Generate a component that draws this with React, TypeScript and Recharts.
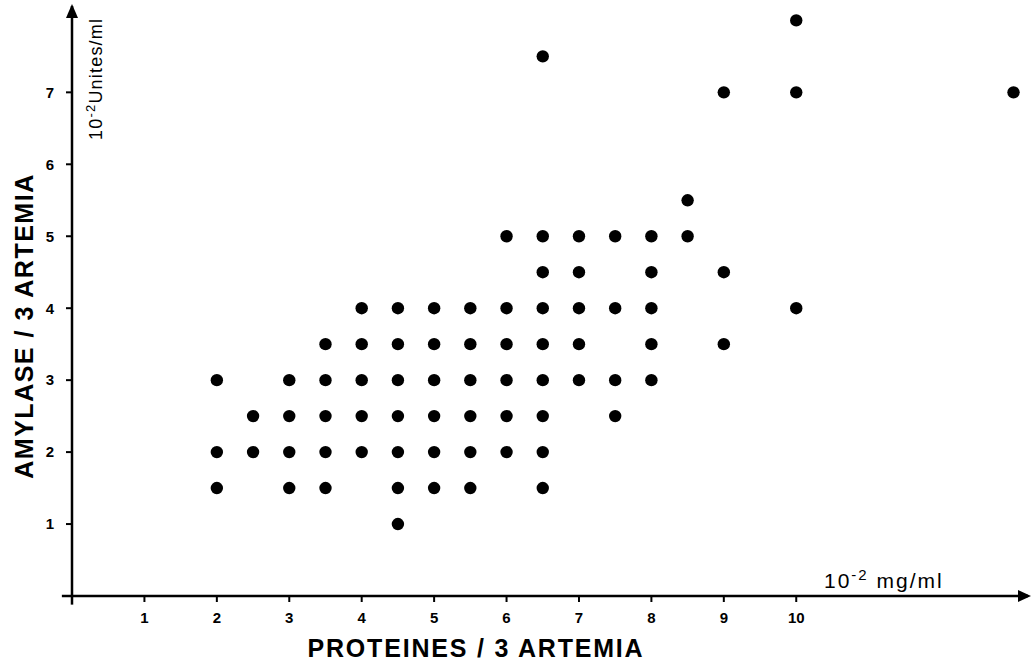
import { ScatterChart, Scatter, XAxis, YAxis, ReferenceDot, ReferenceLine } from 'recharts';

// proteines (10^-2 mg/ml) and amylase (10^-2 unites/ml), paired by index
const proteines = [
  2, 2, 2,
  2.5, 2.5,
  3, 3, 3, 3,
  3.5, 3.5, 3.5, 3.5, 3.5,
  4, 4, 4, 4, 4,
  4.5, 4.5, 4.5, 4.5, 4.5, 4.5, 4.5,
  5, 5, 5, 5, 5, 5,
  5.5, 5.5, 5.5, 5.5, 5.5, 5.5,
  6, 6, 6, 6, 6, 6,
  6.5, 6.5, 6.5, 6.5, 6.5, 6.5, 6.5, 6.5, 6.5,
  7, 7, 7, 7, 7,
  7.5, 7.5, 7.5, 7.5,
  8, 8, 8, 8, 8,
  8.5, 8.5,
  9, 9, 9,
  10, 10, 10,
  13,
];
const amylase = [
  3, 2, 1.5,
  2.5, 2,
  3, 2.5, 2, 1.5,
  3.5, 3, 2.5, 2, 1.5,
  4, 3.5, 3, 2.5, 2,
  4, 3.5, 3, 2.5, 2, 1.5, 1,
  4, 3.5, 3, 2.5, 2, 1.5,
  4, 3.5, 3, 2.5, 2, 1.5,
  5, 4, 3.5, 3, 2.5, 2,
  7.5, 5, 4.5, 4, 3.5, 3, 2.5, 2, 1.5,
  5, 4.5, 4, 3.5, 3,
  5, 4, 3, 2.5,
  5, 4.5, 4, 3.5, 3,
  5.5, 5,
  7, 4.5, 3.5,
  8, 7, 4,
  7,
];
const xTicks = [1, 2, 3, 4, 5, 6, 7, 8, 9, 10];
const yTicks = [1, 2, 3, 4, 5, 6, 7];

const points = proteines.map((p, i) => ({ p, a: amylase[i] }));

const font = '"Liberation Sans", Arial, sans-serif';
const ink = '#000';

const Dot = (props: any) => <circle cx={props.cx} cy={props.cy} r={6.2} fill={ink} />;

const ArrowRight = (props: any) => (
  <path d={`M${props.cx + 3},${props.cy} L${props.cx - 10},${props.cy - 6} L${props.cx - 10},${props.cy + 6} Z`} fill={ink} />
);
const ArrowUp = (props: any) => (
  <path d={`M${props.cx},${props.cy - 2} L${props.cx - 6},${props.cy + 12} L${props.cx + 6},${props.cy + 12} Z`} fill={ink} />
);

const XTitle = (props: any) => {
  const { x, y } = props.viewBox;
  return (
    <g fontFamily={font} fill={ink}>
      <text x={x + 404} y={y + 61} textAnchor="middle" fontSize={25} fontWeight="bold" letterSpacing={1.8}>
        PROTEINES / 3 ARTEMIA
      </text>
      <text x={x + 752} y={y - 8} fontSize={21} letterSpacing={2}>
        10<tspan dy={-8} fontSize={15}>-2</tspan>
        <tspan dy={8}> mg/ml</tspan>
      </text>
    </g>
  );
};

const YTitle = (props: any) => {
  const { x, width } = props.viewBox;
  const cy = 326;
  const ux = x + width + 30;
  const uy = 140;
  return (
    <g fontFamily={font} fill={ink}>
      <text x={24} y={cy} transform={`rotate(-90 24 ${cy})`} textAnchor="middle" dominantBaseline="central"
        fontSize={25} fontWeight="bold" letterSpacing={1.5}>
        AMYLASE / 3 ARTEMIA
      </text>
      <text x={ux} y={uy} transform={`rotate(-90 ${ux} ${uy})`} fontSize={18} letterSpacing={1.2}>
        10<tspan dy={-7} fontSize={13}>-2</tspan>
        <tspan dy={7}>Unites/ml</tspan>
      </text>
    </g>
  );
};

export default function App() {
  return (
    <div style={{ position: 'absolute', left: 0, top: 0, background: '#fff' }}>
      <ScatterChart width={1031} height={663} margin={{ top: 6, right: 3, bottom: 27, left: 0 }}>
        <XAxis
          type="number"
          dataKey="p"
          domain={[0, 13.2]}
          ticks={xTicks}
          allowDataOverflow
          axisLine={{ stroke: ink, strokeWidth: 2.5 }}
          tickLine={{ stroke: ink, strokeWidth: 2 }}
          tickSize={6}
          tick={{ fill: ink, fontSize: 15, fontFamily: font, fontWeight: 'bold', dy: 8 }}
          height={40}
          label={<XTitle />}
        />
        <YAxis
          type="number"
          dataKey="a"
          domain={[0, 8.2]}
          ticks={yTicks}
          allowDataOverflow
          axisLine={{ stroke: ink, strokeWidth: 2.5 }}
          tickLine={{ stroke: ink, strokeWidth: 2 }}
          tickSize={6}
          tick={{ fill: ink, fontSize: 15, fontFamily: font, fontWeight: 'bold', dx: -10 }}
          width={72}
          label={<YTitle />}
        />
        <ReferenceLine segment={[{ x: -0.14, y: 0 }, { x: 0, y: 0 }]} ifOverflow="visible" stroke={ink} strokeWidth={2.5} />
        <ReferenceLine segment={[{ x: 0, y: -0.12 }, { x: 0, y: 0 }]} ifOverflow="visible" stroke={ink} strokeWidth={2.5} />
        <Scatter data={points} shape={<Dot />} isAnimationActive={false} />
        <ReferenceDot x={13.2} y={0} ifOverflow="visible" shape={<ArrowRight />} />
        <ReferenceDot x={0} y={8.2} ifOverflow="visible" shape={<ArrowUp />} />
      </ScatterChart>
    </div>
  );
}
